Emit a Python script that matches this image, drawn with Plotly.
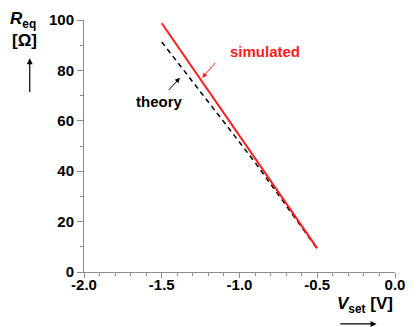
import plotly.graph_objects as go

sim_v = [-1.5, -0.5]
sim_r = [98.7, 9.4]
theory_v = [-1.5, -1.3, -1.1, -0.9, -0.7, -0.5]
theory_r = [91.3, 75.6, 59.5, 43.5, 26.5, 9.2]
x_ticks = [-2.0, -1.5, -1.0, -0.5, 0.0]
x_ticktext = ["-2.0", "-1.5", "-1.0", "-0.5", "0.0"]
y_ticks = [0, 20, 40, 60, 80, 100]

L, R, T, B = 84, 11, 15, 55
W, H = 416, 327
pw, ph = W - L - R, H - T - B

def px(x):
    return (x - L) / pw

def py(y):
    return (H - B - y) / ph

fig = go.Figure()
fig.add_trace(go.Scatter(x=theory_v, y=theory_r, mode="lines",
                         line=dict(color="black", width=1.5, dash="5px,4px"), showlegend=False))
fig.add_trace(go.Scatter(x=sim_v, y=sim_r, mode="lines",
                         line=dict(color="#ff1a1a", width=2), showlegend=False))

fam = "Liberation Sans, Arial, sans-serif"
font = dict(family=fam, size=14, color="black")
axcol = "#8c8c8c"
fig.update_xaxes(range=[-2, 0], tickvals=x_ticks,
                 ticktext=x_ticktext,
                 showline=True, linecolor=axcol, linewidth=1, showgrid=False, zeroline=False,
                 ticks="outside", ticklen=5, tickcolor=axcol, ticklabelstandoff=-6,
                 minor=dict(dtick=0.1, tick0=0, ticks="outside", ticklen=3, tickcolor=axcol, showgrid=False),
                 tickfont=dict(family=fam, size=15, color="black", weight="bold"))
fig.update_yaxes(range=[0, 100], tickvals=y_ticks,
                 showline=True, linecolor=axcol, linewidth=1, showgrid=False, zeroline=False,
                 ticks="outside", ticklen=6, tickcolor=axcol,
                 minor=dict(dtick=10, ticks="outside", ticklen=3, tickcolor=axcol, showgrid=False),
                 tickfont=dict(family=fam, size=15, color="black", weight="bold"))

XR, YR = "x domain", "y domain"

def arrow(x, y, ax, ay, color, width):
    return dict(xref=XR, yref=YR, x=px(x), y=py(y), axref=XR, ayref=YR, ax=px(ax), ay=py(ay),
                text="", showarrow=True, arrowhead=2, arrowsize=1, arrowwidth=width, arrowcolor=color)

def label(x, y, text, size, color="black"):
    return dict(xref=XR, yref=YR, x=px(x), y=py(y), text=text, showarrow=False,
                font=dict(family=fam, size=size, color=color),
                xanchor="center", yanchor="middle")

ann = [
    label(21, 15, "<b><i>R</i><sub>eq</sub></b>", 17),
    label(23, 36, "<b>[Ω]</b>", 17),
    arrow(28, 54, 28, 90, "black", 1.2),
    label(374, 306, "<b><i>V</i><sub>set</sub> [V]</b>", 17),
    arrow(386, 325, 347, 325, "black", 1.2),
    label(271, 47, "<b>simulated</b>", 15, "#ff1a1a"),
    arrow(206, 74, 221, 57, "#ff1a1a", 1),
    label(162, 98, "<b>theory</b>", 15),
    arrow(183, 74, 170, 88, "black", 1),
]

fig.update_layout(width=W, height=H, margin=dict(l=L, r=R, t=T, b=B),
                  plot_bgcolor="white", paper_bgcolor="white", annotations=ann,
                  font=font)
fig.write_html("out.html")
